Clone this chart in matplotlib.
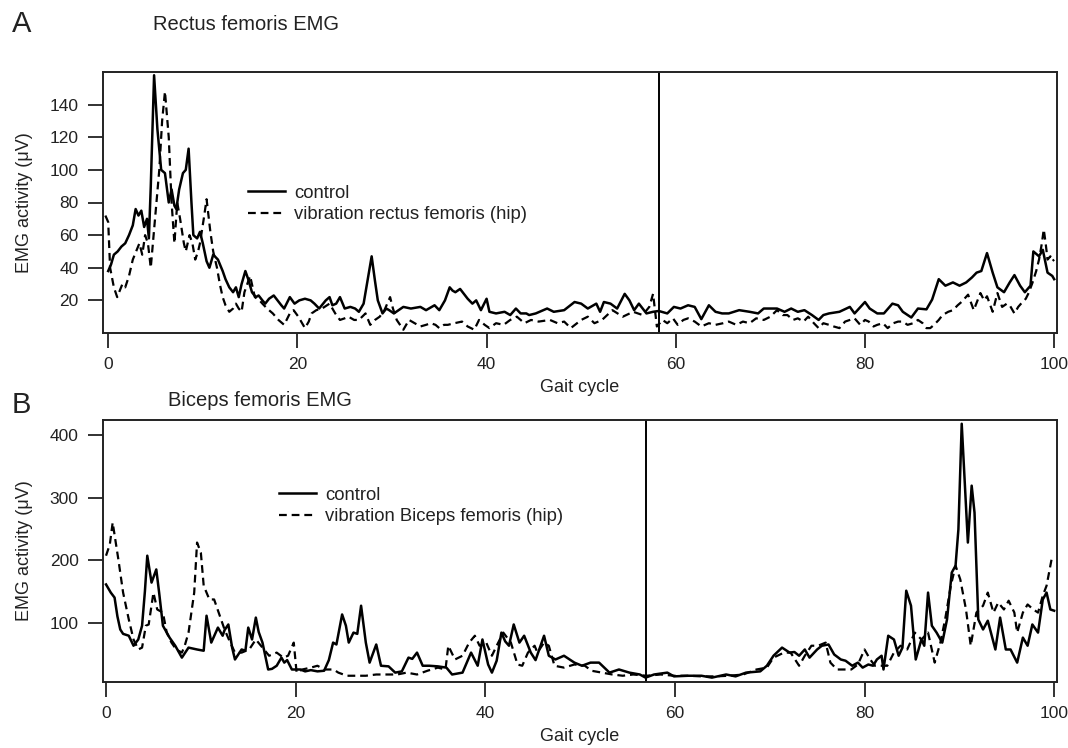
import numpy as np
import matplotlib
matplotlib.use("Agg")
from matplotlib import pyplot as plt

plt.rcParams['font.family'] = ['Liberation Sans', 'DejaVu Sans']

# ---- panel A: rectus femoris ----
rf_ctrl_x = [0.0, 0.3, 0.6, 1.0, 1.4, 1.8, 2.2, 2.6, 2.9, 3.2, 3.5, 3.8, 4.1, 4.3, 4.5, 4.85,
             5.2, 5.6, 6.0, 6.4, 6.7, 7.0, 7.2, 7.5, 7.9, 8.2, 8.5, 8.8, 9.0, 9.4, 9.7, 10.0,
             10.4, 10.7, 11.1, 11.6, 12.1, 12.4, 12.8, 13.2, 13.5, 13.8, 14.1, 14.5, 14.8,
             15.2, 15.6, 15.9, 16.3, 16.6, 17.0, 17.5, 17.9, 18.3, 18.6, 19.2, 19.7, 20.2,
             20.8, 21.4, 21.8, 22.3, 23.0, 23.4, 23.7, 24.1, 24.5, 25.0, 25.6, 26.1, 26.5,
             27.0, 27.5, 27.85, 28.2, 28.5, 29.0, 29.4, 29.7, 30.2, 30.7, 31.2, 32.0, 33.0,
             33.6, 34.5, 35.0, 35.6, 36.1, 36.4, 36.7, 37.2, 37.6, 38.0, 38.5, 38.9, 39.4,
             40.0, 40.3, 41.0, 41.9, 42.5, 43.1, 43.6, 44.2, 44.5, 45.2, 46.4, 47.1, 48.2,
             49.3, 50.0, 50.7, 51.6, 52.0, 52.4, 53.1, 53.8, 54.6, 55.1, 55.6, 56.1, 56.9,
             57.6, 58.2, 59.1, 59.8, 60.5, 61.3, 62.0, 62.7, 63.5, 64.2, 64.9, 65.6, 66.7,
             67.8, 68.7, 69.3, 70.7, 71.5, 72.2, 72.9, 73.6, 74.4, 75.1, 75.6, 76.2, 77.3,
             78.4, 78.9, 80.0, 80.5, 81.3, 82.0, 82.9, 83.5, 84.0, 84.9, 85.6, 86.5, 87.1,
             87.8, 88.5, 89.3, 90.0, 90.7, 91.3, 91.8, 92.3, 92.9, 93.5, 94.0, 94.7, 95.3,
             95.8, 96.4, 96.9, 97.5, 97.8, 98.4, 98.8, 99.3, 99.8, 100.0]
rf_ctrl_y = [38, 42, 48, 50, 53, 55, 60, 66, 76, 72, 75, 65, 70, 58, 90, 158,
             125, 100, 98, 80, 88, 78, 76, 88, 98, 100, 113, 80, 60, 58, 62, 55,
             44, 40, 48, 45, 38, 33, 28, 25, 28, 22, 30, 38, 33,
             25, 22, 23, 20, 18, 21, 23, 20, 17, 15, 22, 18, 20,
             21, 20, 18, 15, 20, 22, 17, 18, 22, 15, 16, 15, 13,
             18, 35, 47, 32, 20, 12, 15, 14, 12, 14, 16, 15, 16,
             14, 17, 14, 20, 28, 26, 25, 27, 24, 21, 18, 20, 14,
             21, 13, 12, 13, 11, 15, 12, 12, 11, 12, 15, 13, 14,
             19, 18, 15, 18, 13, 19, 18, 15, 24, 20, 14, 18, 12,
             13, 13.5, 12, 16, 15, 17, 16, 8.5, 17, 13, 12, 12, 14,
             13, 12, 15, 15, 13, 15, 13, 14, 11, 8, 11, 12, 13,
             16, 12, 19, 15, 12, 12, 18, 17, 13, 9.5, 15, 14.5, 20.5,
             33, 29, 31, 29, 31, 34, 37, 38, 49, 37, 28, 25, 31,
             35.5, 29, 25, 29, 50, 47, 51, 37, 35, 33]

rf_vib_x = [-0.3, 0.0, 0.2, 0.6, 0.95, 1.5, 1.8, 2.2, 2.6, 2.95, 3.3, 3.6, 3.9, 4.2, 4.5, 4.8,
            5.1, 5.4, 5.7, 6.0, 6.4, 6.7, 7.0, 7.3, 7.6, 8.0, 8.2, 8.6, 8.9, 9.2, 9.5, 9.7,
            10.1, 10.4, 10.8, 11.1, 11.5, 11.8, 12.1, 12.4, 12.8, 13.2, 13.5, 13.8, 14.1,
            14.4, 15.0, 15.5, 16.0, 16.3, 16.8, 17.4, 18.0, 18.6, 19.2, 19.6, 20.1, 20.5,
            20.8, 21.2, 21.5, 22.0, 22.6, 23.4, 24.0, 24.5, 25.0, 25.4, 26.0, 26.5, 27.2,
            27.7, 28.2, 28.7, 29.2, 29.8, 30.1, 30.5, 31.2, 31.8, 32.4, 33.0, 33.6, 34.1,
            34.6, 35.0, 35.5, 35.9, 36.6, 37.4, 38.0, 38.7, 39.2, 39.8, 40.3, 41.0, 41.8,
            42.5, 43.2, 44.0, 44.7, 45.5, 46.7, 47.5, 48.2, 48.9, 50.0, 50.7, 51.4, 52.2,
            53.3, 54.4, 55.5, 56.5, 57.2, 57.6, 58.0, 58.6, 59.1, 59.7, 60.2, 60.8, 61.3,
            62.0, 62.7, 63.5, 64.2, 65.0, 65.6, 66.4, 67.1, 67.8, 68.5, 69.3, 70.0, 70.7,
            71.3, 71.8, 72.4, 72.9, 73.5, 74.0, 74.6, 75.1, 75.6, 76.2, 76.7, 77.3, 77.9,
            78.4, 78.9, 79.5, 80.0, 80.4, 80.9, 81.3, 81.9, 82.4, 83.0, 83.5, 84.0, 84.5,
            85.1, 85.6, 86.1, 86.5, 86.9, 87.3, 87.8, 88.2, 88.8, 89.3, 89.8, 90.2, 90.9,
            91.5, 91.9, 92.2, 92.6, 92.9, 93.5, 94.0, 94.5, 95.0, 95.3, 95.8, 96.2, 96.5,
            97.0, 97.3, 97.7, 98.1, 98.4, 98.7, 98.9, 99.1, 99.3, 99.6, 99.8, 100.0]
rf_vib_y = [72, 68, 40, 28, 22, 30, 28, 35, 45, 50, 55, 48, 60, 55, 40, 60,
            80, 100, 130, 148, 120, 80, 55, 80, 70, 55, 50, 60, 55, 45, 50, 55,
            70, 82, 62, 50, 40, 30, 22, 17, 13, 15, 18, 15, 13,
            25, 35, 22, 20, 18, 15, 12, 8, 5, 12, 14, 10, 6,
            3, 7, 12, 14, 15, 18, 12, 8, 9, 10, 8, 8, 12,
            5, 8, 10, 14, 22, 15, 8, 2, 8, 6, 4, 5, 6,
            5, 3, 5, 5, 6, 7, 4, 2, 8, 5, 3, 6, 5,
            8, 10, 6, 8, 7, 8, 6, 7, 3, 8, 10, 6, 8,
            14, 10, 13, 11, 16, 24, 4, 8, 6, 9, 5, 8, 9,
            7, 4, 6, 5, 6, 7, 5, 7, 6, 9, 8, 10, 14,
            11, 11, 8, 9, 7, 10, 6, 3, 6, 5, 4, 3, 7,
            8, 9, 5, 8, 7, 4, 5, 6, 3, 6, 7, 7, 5,
            6, 8, 6, 3, 3, 5, 8, 11, 13, 14, 17, 19, 23.5,
            14, 20, 24.5, 20, 22.5, 13, 24.5, 16, 18, 17, 12, 16, 18,
            21, 24.5, 30.7, 38, 45, 55, 63.5, 55, 45, 47, 44, 45]

# ---- panel B: biceps femoris ----
bf_ctrl_x = [0.0, 0.5, 0.9, 1.2, 1.5, 1.8, 2.4, 2.9, 3.4, 3.8, 4.1, 4.35, 4.8, 5.3, 5.6, 6.0,
             6.7, 7.3, 8.0, 8.7, 9.6, 10.3, 10.6, 11.1, 11.8, 12.3, 12.5, 12.9, 13.3, 13.6,
             14.0, 14.3, 14.7, 15.0, 15.4, 15.8, 16.1, 16.5, 17.1, 17.5, 18.0, 18.5, 18.8,
             19.1, 19.6, 20.5, 21.0, 21.6, 22.3, 23.0, 23.5, 23.95, 24.3, 24.9, 25.3, 25.6,
             26.1, 26.5, 26.9, 27.4, 27.8, 28.5, 29.0, 29.8, 30.5, 31.2, 31.9, 32.3, 32.8,
             33.4, 34.1, 35.0, 35.9, 36.5, 37.6, 38.5, 39.2, 39.7, 40.3, 40.7, 41.2, 41.7,
             42.1, 42.5, 43.0, 43.6, 44.1, 44.8, 45.3, 46.2, 46.7, 47.4, 48.3, 49.4, 50.2,
             51.1, 52.0, 53.1, 54.1, 55.2, 56.3, 56.9, 57.8, 59.2, 59.9, 61.4, 62.8, 63.9,
             65.4, 66.4, 67.5, 69.0, 69.7, 70.4, 71.3, 72.1, 72.6, 73.1, 73.7, 74.2, 75.0,
             75.5, 76.2, 76.8, 77.5, 78.0, 78.7, 79.3, 79.8, 80.4, 80.9, 81.3, 81.8, 82.0,
             82.5, 83.1, 83.6, 84.0, 84.4, 84.9, 85.4, 86.0, 86.3, 86.7, 87.1, 87.6, 88.2,
             88.7, 89.2, 89.6, 89.9, 90.25, 90.7, 90.9, 91.3, 91.6, 92.0, 92.5, 93.0, 93.8,
             94.3, 94.9, 95.4, 96.1, 96.7, 97.2, 97.7, 98.3, 98.8, 99.2, 99.6, 100.0]
bf_ctrl_y = [161, 148, 140, 110, 89, 82, 79, 63, 73, 95, 150, 207, 164, 185, 148, 95,
             76, 63, 44, 60, 57, 55, 111, 68, 92, 79, 88, 97, 60, 41,
             50, 57, 55, 92, 73, 108, 85, 68, 25, 26, 31, 44, 36,
             40, 25, 25, 22, 24, 22, 23, 40, 68, 65, 113, 95, 68,
             84, 82, 127, 68, 36, 65, 31, 30, 20, 22, 44, 42, 52,
             31, 31, 30, 28, 17, 20, 52, 31, 73, 33, 20, 39, 84,
             70, 63, 97, 68, 79, 52, 40, 79, 47, 41, 47, 36, 31,
             36, 36, 20, 25, 20, 17, 12, 17, 20, 14, 15, 15, 12,
             17, 14, 20, 22, 31, 47, 60, 52, 53, 47, 57, 44, 57,
             63, 65, 49, 41, 39, 31, 36, 28, 33, 31, 41, 47, 25,
             79, 73, 47, 60, 151, 127, 41, 73, 63, 148, 95, 84, 68,
             105, 180, 191, 249, 418, 287, 228, 319, 276, 105, 89, 103, 57,
             108, 57, 57, 36, 76, 63, 97, 84, 137, 148, 121, 119]

bf_vib_x = [0.0, 0.4, 0.7, 1.3, 1.8, 2.4, 2.9, 3.4, 3.8, 4.2, 4.5, 5.0, 5.4, 6.0, 6.4, 6.9,
            7.4, 8.0, 8.3, 8.7, 9.3, 9.6, 10.0, 10.3, 10.9, 11.4, 12.0, 12.5, 13.1, 13.6,
            14.3, 15.1, 15.8, 16.5, 17.2, 18.0, 18.7, 19.2, 19.8, 20.1, 20.7, 21.6, 22.3,
            23.0, 24.0, 24.5, 25.4, 26.3, 27.4, 28.5, 29.6, 30.7, 31.7, 32.8, 33.9, 35.0,
            35.8, 36.1, 36.8, 37.6, 38.3, 38.9, 39.4, 40.1, 40.7, 41.2, 41.9, 42.7, 43.4,
            43.9, 44.5, 45.2, 45.5, 46.2, 46.7, 47.3, 48.3, 49.4, 50.5, 51.2, 52.3, 53.4,
            54.5, 55.6, 57.0, 58.5, 59.9, 61.4, 62.8, 64.3, 65.7, 67.2, 68.6, 69.7, 70.4,
            71.5, 72.2, 73.1, 73.7, 74.4, 75.1, 75.9, 76.4, 77.1, 77.8, 78.6, 79.3, 80.0,
            80.6, 81.1, 81.8, 82.4, 83.1, 83.8, 84.5, 85.3, 86.0, 86.7, 87.4, 88.0, 88.5,
            89.1, 89.6, 90.1, 90.7, 91.2, 91.8, 92.5, 93.0, 93.6, 94.1, 94.7, 95.2, 95.8,
            96.1, 96.7, 97.2, 97.8, 98.3, 98.8, 99.2, 99.6, 99.8]
bf_vib_y = [207, 225, 260, 201, 148, 105, 73, 57, 60, 95, 97, 148, 121, 116, 84, 68,
            57, 52, 63, 84, 148, 228, 212, 159, 137, 137, 111, 89, 68, 52,
            52, 57, 73, 60, 47, 52, 44, 47, 68, 20, 25, 28, 31,
            25, 25, 20, 15, 15, 15, 17, 17, 17, 20, 17, 23, 28,
            25, 63, 41, 47, 68, 79, 63, 68, 47, 63, 84, 68, 33,
            31, 52, 63, 52, 68, 63, 31, 28, 33, 31, 23, 20, 17,
            15, 17, 15, 17, 15, 15, 14, 14, 15, 17, 25, 28, 44,
            52, 52, 31, 47, 63, 63, 68, 36, 25, 25, 25, 33, 57,
            41, 31, 31, 31, 52, 63, 57, 84, 73, 84, 36, 68, 105,
            159, 191, 169, 121, 63, 116, 127, 148, 116, 132, 121, 135, 116,
            84, 116, 129, 121, 116, 143, 159, 191, 207]

stance_end = [58.2, 57.0]   # vertical line in each panel

dark = "#222222"
W, H = 1068, 748


def px(x, y):
    # pixel position -> figure fraction
    return x / W, 1 - y / H


def style_axes(ax, yticks):
    for s in ax.spines.values():
        s.set_linewidth(1.4)
        s.set_color(dark)
    ax.set_xticks([0, 20, 40, 60, 80, 100])
    ax.set_yticks(yticks)
    ax.tick_params(direction="out", length=10.5, width=1.3, colors=dark,
                   labelsize=12.5, top=False, right=False)
    ax.tick_params(axis="x", pad=7)
    ax.tick_params(axis="y", pad=7)


fig = plt.figure(figsize=(W / 100, H / 100), dpi=100)

# panel A
axA = fig.add_axes([103 / W, 1 - 333 / H, 954 / W, 261 / H])
axA.plot(rf_ctrl_x, rf_ctrl_y, color="black", lw=1.8, label="control")
axA.plot(rf_vib_x, rf_vib_y, color="black", lw=1.6, ls=(0, (3.5, 2.2)),
         label="vibration rectus femoris (hip)")
axA.axvline(stance_end[0], color="black", lw=1.4)
axA.set_xlim(-0.55, 100.3)
axA.set_ylim(0, 160)
style_axes(axA, [20, 40, 60, 80, 100, 120, 140])
axA.set_xlabel("Gait cycle", fontsize=13, color=dark, labelpad=5)
axA.set_ylabel("EMG activity (μV)", fontsize=13, color=dark, labelpad=12)
axA.legend(loc="center left", bbox_to_anchor=px(248, 204), bbox_transform=fig.transFigure,
           frameon=False, fontsize=13.3, handlelength=2.0, handletextpad=0.5,
           labelspacing=0.25, borderpad=0, borderaxespad=0, labelcolor=dark)

# panel B
axB = fig.add_axes([103 / W, 1 - 682 / H, 954 / W, 262 / H])
axB.plot(bf_ctrl_x, bf_ctrl_y, color="black", lw=1.8, label="control")
axB.plot(bf_vib_x, bf_vib_y, color="black", lw=1.6, ls=(0, (3.5, 2.2)),
         label="vibration Biceps femoris (hip)")
axB.axvline(stance_end[1], color="black", lw=1.4)
axB.set_xlim(-0.32, 100.3)
axB.set_ylim(5, 424)
style_axes(axB, [100, 200, 300, 400])
axB.set_xlabel("Gait cycle", fontsize=13, color=dark, labelpad=5)
axB.set_ylabel("EMG activity (μV)", fontsize=13, color=dark, labelpad=12)
axB.legend(loc="center left", bbox_to_anchor=px(279, 506), bbox_transform=fig.transFigure,
           frameon=False, fontsize=13.3, handlelength=2.0, handletextpad=0.5,
           labelspacing=0.25, borderpad=0, borderaxespad=0, labelcolor=dark)

# panel letters and titles
fig.text(*px(12, 24), "A", fontsize=21, color=dark, va="center", ha="left")
fig.text(*px(153, 24), "Rectus femoris EMG", fontsize=14.5, color=dark, va="center", ha="left")
fig.text(*px(12, 405), "B", fontsize=21, color=dark, va="center", ha="left")
fig.text(*px(168, 401), "Biceps femoris EMG", fontsize=14.5, color=dark, va="center", ha="left")

plt.savefig("out.png", dpi=100)
